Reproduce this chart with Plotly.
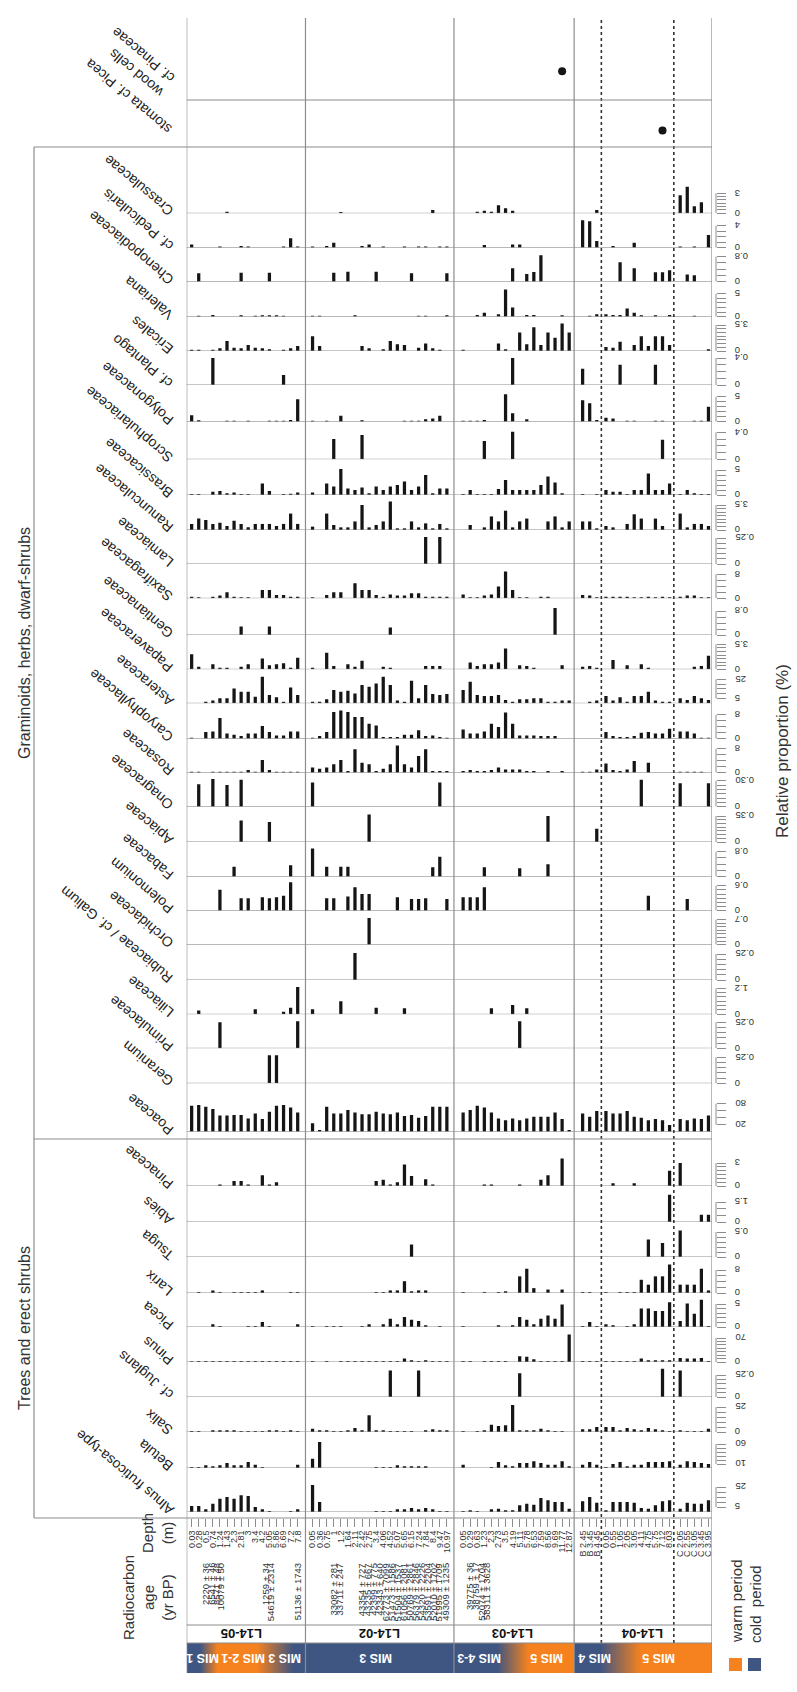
import plotly.graph_objects as go

W, H = 797, 1692
FONT = "Liberation Sans, Arial, Helvetica, sans-serif"
NARROW = "Liberation Sans Narrow, Arial Narrow, Liberation Sans, Arial, sans-serif"
INK = "#151515"
GRID = "#8c8c8c"
BLUE = "#3f5683"
ORANGE = "#f5821f"

# ---------------------------------------------------------------- data
cores = ["L14-05", "L14-02", "L14-03", "L14-04"]

depth_05 = ["0.03", "0.28", "0.5", "0.74", "1.24", "1.43", "2.3", "2.81", "3", "3.4",
            "4.2", "5.05", "5.86", "6.69", "7.2", "7.8"]
depth_02 = ["0.05", "0.36", "0.75", "1", "1.2", "1.64", "2.11", "2.42", "2.75", "3.4",
            "4.06", "4.52", "5.07", "5.65", "6.15", "7.24", "7.84", "8.4", "9.47", "10.97"]
depth_03 = ["0.05", "0.29", "0.63", "1.23", "2.3", "2.73", "3.5", "4.19", "5.11", "5.78",
            "6.53", "7.59", "8.56", "9.69", "11.77", "12.87"]
depth_04 = ["B 2.45", "B 3.45", "B 4.45", "0.05", "0.55", "1.05", "2.05", "3.05", "4.11",
            "4.75", "5.75", "7.12", "8.03", "C 2.05", "C 2.55", "C 3.05", "C 3.45", "C 3.95"]

# relative proportions (%), core order L14-05 | L14-02 | L14-03 | L14-04
alnus = ([6, 6, 2.7, 8.3, 13.3, 15, 13.3, 16.7, 16, 5, 2.7, 1, 0, 0, 1, 2.7]
         + [27, 10, 0, 0, 0, 0, 0, 0, 0, 1, 1, 1, 2.7, 2.7, 4, 2.7, 4, 2.7, 1, 1]
         + [1, 1.7, 1, 0, 2.7, 3.3, 1.7, 1.7, 6.7, 8.3, 7.3, 14, 11.7, 10, 10, 3.3]
         + [10.7, 15, 9.3, 1.7, 10, 10, 10, 9.3, 4, 3.3, 6.7, 10.7, 11.7, 3.3, 9.3, 8.3, 8.3, 11.7])
betula = ([2.5, 2.5, 6.7, 4.2, 6.7, 12.5, 6.7, 6.7, 15, 8.3, 2.5, 0, 0, 0, 0, 8.3]
          + [23, 65, 0, 0, 0, 0, 0, 0, 0, 2.5, 2.5, 2.5, 6.7, 4.2, 4.2, 4.2, 4.2, 0, 0, 0]
          + [8.3, 0, 0, 0, 2.5, 15, 6.7, 4.2, 12.5, 12.5, 16.7, 12.5, 8.3, 8.3, 16.7, 4.2]
          + [8.3, 15, 8.3, 2.5, 10, 15, 4.2, 8.3, 8.3, 15, 15, 15, 16.7, 8.3, 16.7, 15, 12.5, 10])
salix = ([1, 1, 0, 1.7, 1.7, 1.7, 1.7, 1, 1, 1, 1, 1.7, 1.7, 1, 1.7, 1]
         + [3.3, 1.7, 1.7, 1, 1, 1.7, 4, 1.7, 16.7, 1.7, 1.7, 1, 1, 1, 1, 0, 1.7, 2.7, 1.7, 1.7]
         + [1, 0, 1, 1.7, 7.3, 6, 6.7, 27, 1.7, 1.7, 1.7, 3.3, 1.7, 1, 1, 0]
         + [2.7, 2.7, 5, 5, 5, 1.7, 4, 2.7, 1.7, 4, 2.7, 1.7, 1, 1.7, 1, 1, 1, 3.3])
juglans = ([0, 0, 0, 0, 0, 0, 0, 0, 0, 0, 0, 0, 0, 0, 0, 0]
           + [0, 0, 0, 0, 0, 0, 0, 0, 0, 0, 0, 0.3, 0, 0, 0, 0.3, 0, 0, 0, 0]
           + [0, 0, 0, 0, 0, 0, 0, 0, 0.27, 0, 0, 0, 0, 0, 0, 0]
           + [0, 0, 0, 0, 0, 0, 0, 0, 0, 0, 0, 0.32, 0, 0.3, 0, 0, 0, 0])
pinus = ([2, 3, 3, 3, 3, 3, 3, 3, 3, 3, 3, 3, 3, 3, 3, 3]
         + [3, 0, 3, 0, 3, 3, 3, 3, 3, 3, 3, 3, 3, 10, 5, 3, 5, 3, 3, 3]
         + [3, 3, 0, 3, 3, 3, 3, 0, 17, 15, 8, 3, 3, 3, 3, 80]
         + [3, 3, 3, 3, 3, 3, 3, 3, 10, 5, 5, 5, 5, 12, 10, 10, 12, 3])
picea = ([0, 0, 0, 0.6, 0.2, 0, 0, 0, 0.2, 0.2, 1.1, 0.2, 0, 0, 0, 0.6]
         + [0.2, 0, 0.2, 0.2, 0.2, 0, 0, 0.2, 0.6, 0, 0.6, 1.8, 0.6, 2.2, 1.6, 1.3, 0.4, 0, 0.2, 0]
         + [0.2, 0, 0, 0, 0, 0.4, 0, 0.4, 2.2, 1.6, 0.6, 1.8, 2.5, 1.8, 4.9, 0]
         + [0.2, 1.1, 0.2, 0.6, 0.4, 0, 0.2, 0.6, 4.0, 4.0, 3.5, 3.5, 5.4, 1.3, 5.1, 2.9, 5.9, 0.2])
larix = ([0, 0.35, 0, 0.9, 0.35, 0, 0.35, 0.35, 0.35, 0.35, 0.9, 0, 0, 0, 0.35, 0.35]
         + [0, 0, 0, 0, 0, 0, 0, 0, 0, 0.35, 0.35, 0.9, 0.9, 4.1, 0.6, 0.9, 0.9, 0, 0, 0]
         + [0.35, 0, 0, 0.35, 0, 0.35, 0.6, 0, 5.8, 8.4, 1.7, 0, 1.2, 0, 1.2, 0]
         + [0.35, 0.35, 0, 0.35, 0, 0.35, 0.35, 0.35, 4.6, 2.9, 5.8, 5.8, 9.9, 2.9, 2.9, 2.9, 8.4, 0.9])
tsuga = ([0, 0, 0, 0, 0, 0, 0, 0, 0, 0, 0, 0, 0, 0, 0, 0]
         + [0, 0, 0, 0, 0, 0, 0, 0, 0, 0, 0, 0, 0, 0, 0.25, 0, 0, 0, 0, 0]
         + [0, 0, 0, 0, 0, 0, 0, 0, 0, 0, 0, 0, 0, 0, 0, 0]
         + [0, 0, 0, 0, 0, 0, 0, 0, 0, 0.35, 0, 0.28, 0, 0.53, 0, 0, 0, 0])
abies = ([0, 0, 0, 0, 0, 0, 0, 0, 0, 0, 0, 0, 0, 0, 0, 0]
         + [0, 0, 0, 0, 0, 0, 0, 0, 0, 0, 0, 0, 0, 0, 0, 0, 0, 0, 0, 0]
         + [0, 0, 0, 0, 0, 0, 0, 0, 0, 0, 0, 0, 0, 0, 0, 0]
         + [0, 0, 0, 0, 0, 0, 0, 0, 0, 0, 0, 0, 2.05, 0, 0, 0, 0.55, 0.55])
pinaceae = ([0, 0, 0, 0, 0.2, 0, 0.65, 0.65, 0.2, 0, 1.4, 0.2, 0.5, 0, 0, 0]
            + [0, 0, 0, 0, 0, 0, 0, 0, 0, 0.65, 0.8, 0.2, 0.5, 2.8, 1.3, 0, 0.87, 0.2, 0, 0]
            + [0, 0, 0, 0.2, 0.2, 0, 0, 0, 0.2, 0, 0, 0.8, 1.4, 0, 3.6, 0]
            + [0, 0, 0, 0, 0.35, 0, 0, 0.35, 0, 0, 0, 0, 2.0, 3.0, 0, 0, 0, 0])
poaceae = ([74, 76, 71, 65, 46, 46, 48, 48, 38, 52, 36, 57, 74, 76, 69, 55]
           + [24, 5, 71, 52, 52, 62, 55, 50, 50, 57, 52, 50, 55, 45, 48, 40, 45, 71, 71, 71]
           + [55, 62, 74, 69, 55, 38, 33, 38, 33, 38, 43, 43, 43, 55, 36, 5]
           + [52, 43, 59, 59, 52, 52, 59, 43, 40, 33, 36, 33, 19, 36, 33, 38, 36, 46])
geranium = ([0, 0, 0, 0, 0, 0, 0, 0, 0, 0, 0, 0.27, 0.27, 0, 0, 0]
            + [0, 0, 0, 0, 0, 0, 0, 0, 0, 0, 0, 0, 0, 0, 0, 0, 0, 0, 0, 0]
            + [0, 0, 0, 0, 0, 0, 0, 0, 0, 0, 0, 0, 0, 0, 0, 0]
            + [0, 0, 0, 0, 0, 0, 0, 0, 0, 0, 0, 0, 0, 0, 0, 0, 0, 0])
primulaceae = ([0, 0, 0, 0, 0.25, 0, 0, 0, 0, 0, 0, 0, 0, 0, 0, 0.26]
               + [0, 0, 0, 0, 0, 0, 0, 0, 0, 0, 0, 0, 0, 0, 0, 0, 0, 0, 0, 0]
               + [0, 0, 0, 0, 0, 0, 0, 0, 0.26, 0, 0, 0, 0, 0, 0, 0]
               + [0, 0, 0, 0, 0, 0, 0, 0, 0, 0, 0, 0, 0, 0, 0, 0, 0, 0])
liliaceae = ([0, 0.18, 0, 0, 0, 0, 0, 0, 0, 0.23, 0, 0, 0, 0.12, 0.3, 1.26]
             + [0.23, 0, 0, 0, 0.6, 0, 0, 0, 0, 0.3, 0, 0, 0, 0.28, 0, 0, 0, 0, 0, 0]
             + [0, 0, 0, 0, 0.28, 0, 0, 0.43, 0, 0.28, 0, 0, 0, 0, 0, 0]
             + [0, 0, 0, 0, 0, 0, 0, 0, 0, 0, 0, 0, 0, 0, 0, 0, 0, 0])
rubiaceae = ([0, 0, 0, 0, 0, 0, 0, 0, 0, 0, 0, 0, 0, 0, 0, 0]
             + [0, 0, 0, 0, 0, 0, 0.26, 0, 0, 0, 0, 0, 0, 0, 0, 0, 0, 0, 0, 0]
             + [0, 0, 0, 0, 0, 0, 0, 0, 0, 0, 0, 0, 0, 0, 0, 0]
             + [0, 0, 0, 0, 0, 0, 0, 0, 0, 0, 0, 0, 0, 0, 0, 0, 0, 0])
orchidaceae = ([0, 0, 0, 0, 0, 0, 0, 0, 0, 0, 0, 0, 0, 0, 0, 0]
               + [0, 0, 0, 0, 0, 0, 0, 0, 0.75, 0, 0, 0, 0, 0, 0, 0, 0, 0, 0, 0]
               + [0, 0, 0, 0, 0, 0, 0, 0, 0, 0, 0, 0, 0, 0, 0, 0]
               + [0, 0, 0, 0, 0, 0, 0, 0, 0, 0, 0, 0, 0, 0, 0, 0, 0, 0])
polemonium = ([0, 0, 0, 0, 0.5, 0, 0, 0.3, 0.3, 0, 0.32, 0.3, 0.32, 0.36, 0.68, 0]
              + [0, 0, 0.3, 0.3, 0, 0.34, 0.56, 0.4, 0.4, 0, 0, 0, 0.32, 0, 0.28, 0.28, 0.3, 0, 0, 0.28]
              + [0.32, 0.32, 0.32, 0.56, 0, 0, 0, 0, 0, 0, 0, 0, 0, 0, 0, 0]
              + [0, 0, 0, 0, 0, 0, 0, 0, 0, 0.36, 0, 0, 0, 0, 0.28, 0, 0, 0])
fabaceae = ([0, 0, 0, 0, 0, 0, 0.32, 0, 0, 0, 0, 0, 0, 0, 0.37, 0]
            + [0.9, 0, 0.32, 0, 0.32, 0.32, 0, 0, 0, 0, 0, 0, 0, 0, 0, 0, 0, 0.3, 0.64, 0]
            + [0, 0, 0, 0.3, 0, 0, 0, 0, 0.27, 0, 0, 0, 0.4, 0, 0, 0]
            + [0, 0, 0, 0, 0, 0, 0, 0, 0, 0, 0, 0, 0, 0, 0, 0, 0, 0])
apiaceae = ([0, 0, 0, 0, 0, 0, 0, 0.29, 0, 0, 0, 0.27, 0, 0, 0, 0]
            + [0, 0, 0, 0, 0, 0, 0, 0, 0.37, 0, 0, 0, 0, 0, 0, 0, 0, 0, 0, 0]
            + [0, 0, 0, 0, 0, 0, 0, 0, 0, 0, 0, 0, 0.35, 0, 0, 0]
            + [0, 0, 0.18, 0, 0, 0, 0, 0, 0, 0, 0, 0, 0, 0, 0, 0, 0, 0])
onagraceae = ([0, 0.26, 0, 0.32, 0, 0.25, 0, 0.31, 0, 0, 0, 0, 0, 0, 0, 0]
              + [0.28, 0, 0, 0, 0, 0, 0, 0, 0, 0, 0, 0, 0, 0, 0, 0, 0, 0, 0.28, 0]
              + [0, 0, 0, 0, 0, 0, 0, 0, 0, 0, 0, 0, 0, 0, 0, 0]
              + [0, 0, 0, 0, 0, 0, 0, 0, 0.31, 0, 0, 0, 0, 0.27, 0, 0, 0, 0.27])
rosaceae = ([0.35, 0.35, 0, 0.35, 0.35, 0.35, 0.35, 0.35, 0.9, 0.35, 4.2, 0.9, 0.35, 0.35, 0.35, 0.35]
            + [1.7, 1.3, 1.7, 2.8, 4.2, 0.55, 7.8, 3.3, 2.8, 0.55, 1.3, 2.8, 9.1, 2.8, 1.7, 5.6, 7.8, 0.55, 0.55, 0.55]
            + [0.55, 0.9, 0.55, 0.55, 0.9, 1.7, 1.1, 1.1, 1.1, 0.55, 0.55, 0, 0.55, 0, 0.55, 0]
            + [0.35, 0.35, 1.1, 3.1, 0.9, 0.55, 1.1, 3.9, 0, 3.3, 0, 0, 0, 0.35, 0.35, 0.35, 0.35, 0])
caryophyllaceae = ([0.35, 0, 2.2, 2.4, 6.9, 1.7, 1.3, 0.9, 1.7, 1.7, 4.2, 2.2, 1.1, 1.1, 2.4, 2.4]
                   + [0.35, 0.9, 2.2, 8.9, 9.4, 8.9, 7.2, 7.2, 5, 4.4, 0.55, 0.55, 0.55, 1.3, 1.3, 2.8, 0.9, 1.1, 0.55, 0.35]
                   + [3.1, 1.7, 1.7, 2.4, 5, 3.9, 8.7, 5, 1.1, 1.1, 1.1, 0.9, 0.9, 0.9, 0, 0]
                   + [0, 0, 0, 2.2, 0.9, 0.55, 0.55, 0.9, 2, 2.2, 1.7, 1.7, 3.3, 2.4, 2.4, 1.7, 0.35, 0.35])
asteraceae = ([0, 0, 1.7, 2.8, 5.2, 5.2, 15.5, 12, 12, 6.9, 27.6, 8.6, 6.2, 1.7, 16.5, 8.6]
              + [1.7, 1.7, 4.1, 13.8, 12, 13.1, 10.3, 19, 17.2, 20.7, 27.6, 19, 2.8, 1.7, 23.4, 5.2, 19, 9.7, 8.6, 9.7]
              + [13.8, 22.4, 8.6, 7.6, 7.6, 8.6, 3.4, 1.7, 4.1, 4.1, 5.2, 5.2, 1.7, 1.7, 2.8, 2.8]
              + [0, 1.7, 2.8, 7.6, 2.8, 6.2, 1.7, 7.6, 7.6, 12, 2.8, 1.7, 1.7, 5.2, 3.4, 7.6, 5.2, 3.4])
papaveraceae = ([2.1, 0.37, 0, 0.7, 0.23, 0.23, 0, 0.37, 0.7, 0, 1.5, 0.56, 0.7, 0.85, 0.23, 1.6]
                + [0.23, 0, 2.3, 0.47, 0, 0.7, 0.37, 1.2, 0, 0, 0.37, 0.23, 0, 0, 0, 0, 0.47, 0.47, 0.47, 0]
                + [0, 0.95, 0.47, 0.7, 0.7, 0.95, 2.9, 0, 0.56, 0.47, 0.23, 0, 0, 0, 0.56, 0]
                + [0.37, 0.47, 0.23, 0, 1.3, 0, 0.56, 0, 0.7, 0.23, 0, 0, 0, 0, 0, 0.37, 0.47, 1.9])
gentianaceae = ([0, 0, 0, 0, 0, 0, 0, 0.28, 0, 0, 0, 0.28, 0, 0, 0, 0]
                + [0, 0, 0, 0, 0, 0, 0, 0, 0, 0, 0, 0.25, 0, 0, 0, 0, 0, 0, 0, 0]
                + [0, 0, 0, 0, 0, 0, 0, 0, 0, 0, 0, 0, 0, 0.9, 0, 0]
                + [0, 0, 0, 0, 0, 0, 0, 0, 0, 0, 0, 0, 0, 0, 0, 0, 0, 0])
saxifragaceae = ([0.55, 0.35, 0, 0.55, 0.9, 2, 0.55, 0.35, 0.35, 0, 2.8, 2.8, 1.1, 1.1, 0.55, 0.55]
                 + [0.35, 0, 1.1, 2, 2, 0, 5, 2.8, 2.8, 1.1, 0.55, 1.3, 0.9, 0.9, 1.7, 1.7, 0.55, 0.55, 0.55, 0.55]
                 + [1.3, 0.35, 0.35, 0.9, 1.3, 3.9, 8.9, 2.8, 0.35, 0.35, 0, 0.55, 0.55, 0, 0, 0]
                 + [1.1, 0.9, 0.35, 0.55, 0.55, 0.55, 0.55, 0.35, 0.35, 0.55, 0.35, 0.55, 0.35, 0.55, 0.9, 0.9, 0.35, 0.35])
lamiaceae = ([0, 0, 0, 0, 0, 0, 0, 0, 0, 0, 0, 0, 0, 0, 0, 0]
             + [0, 0, 0, 0, 0, 0, 0, 0, 0, 0, 0, 0, 0, 0, 0, 0, 0.26, 0, 0.26, 0]
             + [0, 0, 0, 0, 0, 0, 0, 0, 0, 0, 0, 0, 0, 0, 0, 0]
             + [0, 0, 0, 0, 0, 0, 0, 0, 0, 0, 0, 0, 0, 0, 0, 0, 0, 0])
ranunculaceae = ([0.85, 1.6, 1.4, 0.85, 1.0, 0.55, 1.3, 0.85, 0.37, 0.85, 0.85, 0.85, 0.56, 0.85, 2.3, 0.85]
                 + [0.47, 0, 2.3, 0.7, 0.37, 0.37, 1.2, 3.5, 0.37, 0.7, 1.2, 4.0, 0.23, 0.23, 1.2, 0.37, 0.93, 0.23, 0.85, 0.23]
                 + [0, 0.7, 0, 0.37, 1.9, 1.2, 2.7, 0.37, 1.2, 1.6, 0, 0, 1.2, 1.9, 0.37, 1.2]
                 + [1.2, 1.2, 0.23, 0.56, 0.37, 0, 0.85, 2.2, 1.6, 0, 1.6, 0.56, 0, 2.3, 0.37, 0.85, 0.85, 0.56])
brassicaceae = ([0.2, 0.2, 0, 0.65, 0.8, 0.33, 0.5, 0.2, 0.2, 0, 2.3, 0.8, 0, 0.2, 0.27, 0.5]
                + [0.5, 0, 2.3, 1.7, 5.2, 1.3, 1.0, 1.5, 0.33, 1.7, 1.0, 1.7, 2.0, 2.7, 1.0, 1.7, 4.0, 0.33, 1.3, 1.3]
                + [0.2, 1.0, 0.2, 0.2, 0.2, 1.2, 3.0, 1.0, 1.0, 1.0, 1.0, 2.0, 3.7, 2.5, 0.33, 0]
                + [0.2, 0, 0.2, 1.0, 0.65, 0.65, 0.2, 1.0, 1.0, 4.3, 1.0, 1.0, 2.3, 0.2, 1.0, 0.33, 0.2, 0.2])
scrophulariaceae = ([0, 0, 0, 0, 0, 0, 0, 0, 0, 0, 0, 0, 0, 0, 0, 0]
                    + [0, 0, 0, 0.3, 0, 0, 0, 0.36, 0, 0, 0, 0, 0, 0, 0, 0, 0, 0, 0, 0]
                    + [0, 0, 0, 0.27, 0, 0, 0, 0.41, 0, 0, 0, 0, 0, 0, 0, 0]
                    + [0, 0, 0, 0, 0, 0, 0, 0, 0, 0, 0, 0.29, 0, 0, 0, 0, 0, 0])
polygonaceae = ([1.3, 0.27, 0, 0, 0, 0.2, 0.2, 0, 0.2, 0, 0, 0.2, 0.2, 0.2, 0.33, 4.5]
                + [0.2, 0, 0.2, 0, 1.2, 0, 0, 0.27, 0, 0, 0, 0, 0, 0.2, 0.2, 0.2, 0.5, 0.65, 1.2, 0]
                + [0.2, 0.2, 0.2, 0.33, 0, 0, 5.5, 1.7, 0, 0.5, 0, 0, 0, 0, 0, 0]
                + [4.3, 3.7, 0.33, 0.8, 0.65, 0, 0.2, 0.2, 0, 0, 0.2, 0.2, 0, 0, 0, 0.2, 0.2, 3.0])
plantago = ([0, 0, 0, 0.4, 0, 0, 0, 0, 0, 0, 0, 0, 0, 0.15, 0, 0]
            + [0, 0, 0, 0, 0, 0, 0, 0, 0, 0, 0, 0, 0, 0, 0, 0, 0, 0, 0, 0]
            + [0, 0, 0, 0, 0, 0, 0, 0.4, 0, 0, 0, 0, 0, 0, 0, 0]
            + [0.24, 0, 0, 0, 0, 0.3, 0, 0, 0, 0, 0.3, 0, 0, 0, 0, 0, 0, 0])
ericales = ([0.18, 0.18, 0, 0.18, 0.36, 1.35, 0.45, 0.36, 0.8, 0.45, 0.36, 0.22, 0, 0.18, 0.36, 0.67]
            + [2.0, 0.67, 0, 0, 0, 0, 0, 0.67, 0.36, 0, 0.22, 1.35, 0.9, 0.8, 0, 0.45, 1.0, 0.36, 0.18, 0]
            + [0.18, 0, 0, 0, 0, 1.0, 0.22, 0, 2.5, 0.9, 3.2, 0.8, 2.5, 1.8, 3.7, 2.5]
            + [0, 0, 0, 0.54, 0.45, 1.25, 0, 0.8, 2.0, 0.67, 2.0, 2.0, 0.8, 0, 0, 0, 0, 0.22])
valeriana = ([0, 0.2, 0, 0.35, 0, 0, 0, 0.3, 0, 0.2, 0.3, 0.3, 0.3, 0.2, 0, 0]
             + [0.2, 0.2, 0, 0, 0, 0, 0.3, 0, 0, 0, 0, 0, 0, 0, 0, 0.2, 0.2, 0, 0, 0.3]
             + [0, 0, 0.35, 0.85, 0, 0.55, 5.9, 2.0, 0, 0.35, 0.35, 0, 0, 0, 0.3, 0]
             + [0, 0.2, 0.55, 0.55, 0.35, 0.35, 1.8, 0.85, 0.3, 0, 0.3, 0, 0.35, 0, 0, 0.2, 0, 0])
chenopodiaceae = ([0, 0.27, 0, 0, 0, 0, 0, 0.29, 0, 0, 0, 0.29, 0, 0, 0, 0]
                  + [0, 0, 0, 0.29, 0, 0.32, 0, 0, 0, 0.32, 0, 0, 0, 0, 0.27, 0, 0, 0, 0, 0.27]
                  + [0, 0, 0, 0, 0, 0, 0, 0.43, 0, 0.25, 0.31, 0.85, 0, 0, 0, 0]
                  + [0, 0, 0, 0, 0, 0.62, 0, 0.43, 0, 0, 0.3, 0.3, 0.37, 0, 0.23, 0.21, 0, 0])
pedicularis = ([0.6, 0, 0, 0, 0.2, 0, 0, 0.3, 0.2, 0, 0, 0, 0, 0.2, 1.7, 0.2]
               + [0.2, 0, 0.3, 0.9, 0, 0, 0, 0.3, 0.6, 0, 0.2, 0, 0, 0.2, 0, 0.2, 0.2, 0, 0.2, 0.2]
               + [0, 0, 0, 0.5, 0, 0, 0, 0.6, 0.6, 0, 0, 0, 0, 0, 0, 0]
               + [5.0, 4.8, 1.2, 0, 0.3, 0, 0, 0.9, 0, 0, 0, 0, 0, 0.2, 0, 0.2, 0, 2.3])
crassulaceae = ([0, 0, 0, 0, 0, 0.25, 0, 0, 0, 0, 0, 0, 0, 0, 0, 0]
                + [0, 0, 0, 0, 0.2, 0, 0, 0, 0, 0, 0, 0, 0, 0, 0, 0, 0, 0.5, 0, 0]
                + [0, 0, 0.25, 0.4, 0.25, 1.2, 0.75, 0.4, 0, 0, 0, 0, 0, 0, 0, 0]
                + [0, 0, 0.5, 0, 0, 0, 0, 0, 0, 0, 0, 0, 0, 2.7, 4.0, 1.05, 1.65, 0])
# presence (1) of macro-remains
stomata_picea = ([0] * 16 + [0] * 20 + [0] * 16
                 + [0, 0, 0, 0, 0, 0, 0, 0, 0, 0, 0, 1, 0, 0, 0, 0, 0, 0])
wood_cells = ([0] * 16 + [0] * 20
              + [0, 0, 0, 0, 0, 0, 0, 0, 0, 0, 0, 0, 0, 0, 1, 0]
              + [0] * 18)

# radiocarbon ages (label, position along the depth axis)
ages_text = ["2220 ± 36", "6541 ± 46", "8571 ± 48", "10079 ± 50", "1259 ± 34", "54619 ± 2314",
             "51136 ± 1743",
             "33082 ± 281", "33711 ± 247",
             "43354 ± 727", "43235 ± 667", "42399 ± 775", "42343 ± 640", "62773 ± 7099",
             "51473 ± 1586", "51504 ± 1537", "61056 ± 2081", "50769 ± 2861", "56379 ± 2846",
             "54320 ± 2226", "53591 ± 2204", "52010 ± 1702", "51995 ± 1709", "49309 ± 1235",
             "39775 ± 36", "38759 ± 17", "52074 ± 1704", "58311 ± 3628"]
ages_x = [2.6, 3.4, 4.15, 4.85, 11.1, 11.8, 15.7,
          20.7, 21.6,
          24.75, 25.6, 26.4, 27.25, 28.1, 28.9, 29.8, 30.6, 31.4, 32.3, 33.1, 34.0, 34.8, 35.6, 36.5,
          40.0, 40.8, 41.6, 42.4]

mis_labels = ["MIS 1", "MIS 2-1", "MIS 3", "MIS 3", "MIS 4-3", "MIS 5", "MIS 4", "MIS 5"]
mis_label_px = [203, 243, 285, 376, 479, 547, 595, 659]

# ---------------------------------------------------------------- layout helpers
def ypx(p):
    return 1 - p / H


def xpx(p):
    return p / W


X0, X1 = 186.7, 712.0
XR = [0, 74.3]
pos_05 = [0.7 + j for j in range(16)]
pos_02 = [17.8 + j for j in range(20)]
pos_03 = [39.1 + j for j in range(16)]
pos_04 = [56.0 + j for j in range(3)] + [59.3 + j for j in range(10)] + [69.8 + j for j in range(5)]
xs = pos_05 + pos_02 + pos_03 + pos_04
depth_labels = depth_05 + depth_02 + depth_03 + depth_04
panel_edges = [0, 16.8, 37.8, 54.8, 74.3]
dotted = [58.65, 68.9]

# label, values, baseline px, tick lo, tick hi, tick step, label lo, label hi, px height of tick hi
row_specs = [
    ("Alnus fruticosa-type", alnus, 1512, 5, 25, 5, "5", "25", 25),
    ("Betula", betula, 1468, 10, 60, 10, "10", "60", 24),
    ("Salix", salix, 1432, 0, 25, 5, "0", "25", 25),
    ("cf. Juglans", juglans, 1397, 0, 0.25, 0.05, "0", "0.25", 22),
    ("Pinus", pinus, 1362, 0, 70, 10, "0", "70", 24),
    ("Picea", picea, 1327, 0, 5, 1, "0", "5", 23),
    ("Larix", larix, 1293, 0, 8, 2, "0", "8", 23),
    ("Tsuga", tsuga, 1257, 0, 0.5, 0.1, "0", "0.5", 25),
    ("Abies", abies, 1222, 0, 1.5, 0.5, "0", "1.5", 20),
    ("Pinaceae", pinaceae, 1186, 0, 3, 0.5, "0", "3", 23),
    ("Poaceae", poaceae, 1131.7, 20, 80, 20, "20", "80", 28),
    ("Geranium", geranium, 1083.3, 0, 0.25, 0.05, "0", "0.25", 26),
    ("Primulaceae", primulaceae, 1048.3, 0, 0.25, 0.05, "0", "0.25", 26),
    ("Liliaceae", liliaceae, 1014.3, 0, 1.2, 0.2, "0", "1.2", 26),
    ("Rubiaceae / cf. Galium", rubiaceae, 980, 0, 0.25, 0.05, "0", "0.25", 26),
    ("Orchidaceae", orchidaceae, 944.7, 0, 0.7, 0.1, "0", "0.7", 25),
    ("Polemonium", polemonium, 910.7, 0, 0.6, 0.1, "0", "0.6", 25),
    ("Fabaceae", fabaceae, 876.7, 0, 0.8, 0.2, "0", "0.8", 25),
    ("Apiaceae", apiaceae, 842, 0, 0.35, 0.05, "0", "0.35", 26),
    ("Onagraceae", onagraceae, 806.7, 0, 0.3, 0.05, "0", "0.30", 26),
    ("Rosaceae", rosaceae, 772.7, 0, 8, 2, "0", "8", 24),
    ("Caryophyllaceae", caryophyllaceae, 738.7, 0, 8, 2, "0", "8", 24),
    ("Asteraceae", asteraceae, 703.3, 5, 25, 5, "5", "25", 24),
    ("Papaveraceae", papaveraceae, 669.3, 0, 3.5, 0.5, "0", "3.5", 25),
    ("Gentianaceae", gentianaceae, 635, 0, 0.8, 0.2, "0", "0.8", 24),
    ("Saxifragaceae", saxifragaceae, 598.3, 0, 8, 2, "0", "8", 24),
    ("Lamiaceae", lamiaceae, 564, 0, 0.25, 0.05, "0", "0.25", 26),
    ("Ranunculaceae", ranunculaceae, 530, 0, 3.5, 0.5, "0", "3.5", 25),
    ("Brassicaceae", brassicaceae, 495, 0, 5, 1, "0", "5", 25),
    ("Scrophulariaceae", scrophulariaceae, 459.3, 0, 0.4, 0.1, "0", "0.4", 27),
    ("Polygonaceae", polygonaceae, 421.7, 0, 5, 1, "0", "5", 25),
    ("cf. Plantago", plantago, 385, 0, 0.4, 0.1, "0", "0.4", 27),
    ("Ericales", ericales, 351, 0, 3.5, 0.5, "0", "3.5", 26),
    ("Valeriana", valeriana, 316.7, 0, 5, 1, "0", "5", 23),
    ("Chenopodiaceae", chenopodiaceae, 281.7, 0, 0.8, 0.2, "0", "0.8", 25),
    ("cf. Pedicularis", pedicularis, 247.7, 0, 4, 1, "0", "4", 22),
    ("Crassulaceae", crassulaceae, 213.3, 0, 3, 0.5, "0", "3", 20),
]

fig = go.Figure()
layout = {}
shapes = []
annotations = []
D = 32  # px height of every curve panel

for i, (label, vals, b, lo, hi, step, llo, lhi, h) in enumerate(row_specs):
    ax = i + 1
    yname = "y" if ax == 1 else "y%d" % ax
    lname = "yaxis" if ax == 1 else "yaxis%d" % ax
    n = int(round((hi - lo) / step))
    ticks = [lo + k * step for k in range(n + 1)]
    fig.add_trace(go.Bar(x=xs, y=vals, xaxis="x", yaxis=yname, width=0.46,
                         marker=dict(color=INK, line=dict(width=0)), hoverinfo="skip"))
    layout[lname] = dict(domain=[ypx(b), ypx(b - D)], range=[0, hi * D / h], anchor="free",
                         position=xpx(716), side="right", ticks="outside", ticklen=9,
                         tickwidth=1, tickcolor=GRID, tickvals=ticks, showticklabels=False,
                         showgrid=False, zeroline=False, showline=False, fixedrange=True)
    shapes.append(dict(type="line", xref="paper", yref=yname, x0=xpx(X0), x1=xpx(X1),
                       y0=0, y1=0, line=dict(color=GRID, width=1)))
    shapes.append(dict(type="line", xref="paper", yref=yname, x0=xpx(716), x1=xpx(716),
                       y0=ticks[0], y1=ticks[-1], line=dict(color=GRID, width=1)))
    annotations.append(dict(x=xpx(733), y=ticks[0], xref="paper", yref=yname, text=llo,
                            textangle=180, xanchor="left", yanchor="middle", showarrow=False,
                            font=dict(family=FONT, size=9.5, color="#333")))
    annotations.append(dict(x=xpx(733), y=ticks[-1], xref="paper", yref=yname, text=lhi,
                            textangle=180, xanchor="left", yanchor="middle", showarrow=False,
                            font=dict(family=FONT, size=9.5, color="#333")))
    annotations.append(dict(x=xpx(179), y=ypx(b + 9), xref="paper", yref="paper", text=label,
                            textangle=-140, xanchor="right", yanchor="bottom", showarrow=False,
                            font=dict(family=FONT, size=14, color="#222")))

# presence rows
n_rows = len(row_specs)
for k, (label, vals, top, bot, lx, ly) in enumerate([
        ("stomata cf. Picea", stomata_picea, 100, 147, 178, 140),
        ("wood cells<br>cf. Pinaceae", wood_cells, 18, 100, 181, 103)]):
    ax = n_rows + 1 + k
    yname = "y%d" % ax
    layout["yaxis%d" % ax] = dict(domain=[ypx(bot), ypx(top)], range=[0, 1], visible=False,
                                  fixedrange=True)
    px_ = [x for x, v in zip(xs, vals) if v > 0]
    fig.add_trace(go.Scatter(x=px_, y=[0.35] * len(px_), xaxis="x", yaxis=yname, mode="markers",
                             marker=dict(color=INK, size=8), hoverinfo="skip"))
    annotations.append(dict(x=xpx(lx), y=ypx(ly), xref="paper", yref="paper", text=label,
                            textangle=-140, xanchor="right", yanchor="bottom", showarrow=False,
                            align="left", font=dict(family=FONT, size=14, color="#222")))

# MIS colour band (gradients between warm and cold stages)
ax_mis = n_rows + 3
ymis = "y%d" % ax_mis
layout["yaxis%d" % ax_mis] = dict(domain=[ypx(1673), ypx(1643)], range=[-0.5, 1.5],
                                  visible=False, fixedrange=True)
band_x = [[0.02, 0.08, 1.9, 4.3, 9.9, 15.0, 16.72, 16.78],
          [16.82, 16.88, 37.72, 37.78],
          [37.82, 37.88, 43.9, 48.2, 54.72, 54.78],
          [54.82, 54.88, 58.4, 64.1, 74.22, 74.28]]
band_z = [[0, 0, 0, 1, 1, 0, 0, 0],
          [0, 0, 0, 0],
          [0, 0, 0, 1, 1, 1],
          [0, 0, 0, 1, 1, 1]]
for bx, bz in zip(band_x, band_z):
    fig.add_trace(go.Heatmap(x=bx, y=[0, 1], z=[bz, bz], xaxis="x", yaxis=ymis, zmin=0, zmax=1,
                             zsmooth="best", colorscale=[[0, BLUE], [1, ORANGE]],
                             showscale=False, hoverinfo="skip"))
for t, p in zip(mis_labels, mis_label_px):
    annotations.append(dict(x=xpx(p), y=ypx(1658), xref="paper", yref="paper", text="<b>%s</b>" % t,
                            textangle=180, showarrow=False, xanchor="center", yanchor="middle",
                            font=dict(family=FONT, size=12.5, color="white")))

# core names
for t, p in zip(cores, [242, 380, 512, 642]):
    annotations.append(dict(x=xpx(p), y=ypx(1634), xref="paper", yref="paper", text="<b>%s</b>" % t,
                            textangle=180, showarrow=False, xanchor="center", yanchor="middle",
                            font=dict(family=NARROW, size=13, color="#111")))

# radiocarbon ages
for t, x in zip(ages_text, ages_x):
    annotations.append(dict(x=x, y=ypx(1561), xref="x", yref="paper", text=t, textangle=-90,
                            showarrow=False, xanchor="center", yanchor="top",
                            font=dict(family=NARROW, size=9.5, color="#333")))

# structural lines
for e in panel_edges:
    shapes.append(dict(type="line", xref="x", yref="paper", x0=e, x1=e, y0=ypx(1673), y1=ypx(18),
                       line=dict(color=GRID, width=1.2), layer="above"))
for d in dotted:
    shapes.append(dict(type="line", xref="x", yref="paper", x0=d, x1=d, y0=ypx(1643), y1=ypx(18),
                       line=dict(color="#333", width=1.6, dash="dot"), layer="above"))
for yy, xa in [(100, X0), (147, 34), (1139, 34), (1518, 34), (1625, X0), (1643, X0)]:
    shapes.append(dict(type="line", xref="paper", yref="paper", x0=xpx(xa), x1=xpx(X1),
                       y0=ypx(yy), y1=ypx(yy), line=dict(color=GRID, width=1.2)))
shapes.append(dict(type="line", xref="paper", yref="paper", x0=xpx(34), x1=xpx(34),
                   y0=ypx(1518), y1=ypx(147), line=dict(color=GRID, width=1.2)))

# legend squares
shapes.append(dict(type="rect", xref="paper", yref="paper", x0=xpx(729), x1=xpx(742),
                   y0=ypx(1671), y1=ypx(1658), fillcolor=ORANGE, line=dict(width=0)))
shapes.append(dict(type="rect", xref="paper", yref="paper", x0=xpx(748), x1=xpx(761),
                   y0=ypx(1671), y1=ypx(1658), fillcolor=BLUE, line=dict(width=0)))

big = dict(family=FONT, size=16, color="#333")
extra = [
    dict(x=xpx(24), y=ypx(1328), text="Trees and erect shrubs", textangle=-90, font=big),
    dict(x=xpx(24), y=ypx(643), text="Graminoids, herbs, dwarf-shrubs", textangle=-90, font=big),
    dict(x=xpx(782), y=ypx(751), text="Relative proportion (%)", textangle=-90,
         font=dict(family=FONT, size=17, color="#333")),
    dict(x=xpx(148), y=ypx(1598), text="Radiocarbon<br>age<br>(yr BP)", textangle=-90,
         font=dict(family=FONT, size=15, color="#333")),
    dict(x=xpx(157), y=ypx(1533), text="Depth<br>(m)", textangle=-90,
         font=dict(family=FONT, size=15, color="#333")),
    dict(x=xpx(736), y=ypx(1645), text="warm period", textangle=-90, yanchor="bottom",
         font=dict(family=FONT, size=15, color="#333")),
    dict(x=xpx(755), y=ypx(1645), text="cold  period", textangle=-90, yanchor="bottom",
         font=dict(family=FONT, size=15, color="#333")),
]
for a in extra:
    a.setdefault("xref", "paper")
    a.setdefault("yref", "paper")
    a.setdefault("showarrow", False)
    a.setdefault("xanchor", "center")
    a.setdefault("yanchor", "middle")
annotations += extra

layout["xaxis"] = dict(domain=[xpx(X0), xpx(X1)], range=XR, anchor="free", position=ypx(1518),
                       tickmode="array", tickvals=xs, ticktext=depth_labels, tickangle=-90,
                       ticks="outside", ticklen=8, tickcolor=GRID, tickwidth=1,
                       tickfont=dict(family=NARROW, size=9, color="#333"),
                       showgrid=False, zeroline=False, showline=False, fixedrange=True)

fig.update_layout(width=W, height=H, margin=dict(l=0, r=0, t=0, b=0), autosize=False,
                  paper_bgcolor="white", plot_bgcolor="rgba(0,0,0,0)", showlegend=False,
                  barmode="overlay", shapes=shapes, annotations=annotations, **layout)
fig.write_html("out.html", config={"displayModeBar": False, "staticPlot": True},
               post_script="document.body.style.margin='0px';")
